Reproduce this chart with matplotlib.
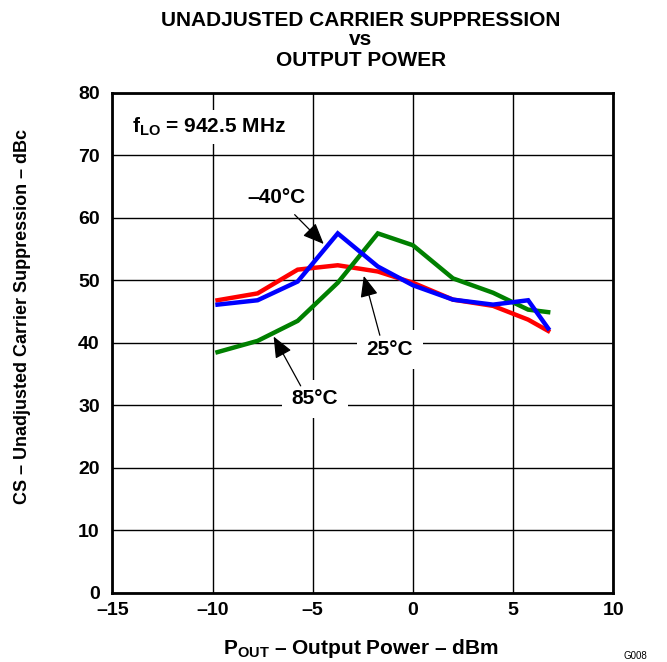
import matplotlib
matplotlib.use("Agg")
import matplotlib.pyplot as plt

plt.rcParams['font.family'] = ['Liberation Sans', 'DejaVu Sans']
plt.rcParams['mathtext.fontset'] = 'custom'
plt.rcParams['mathtext.bf'] = 'Liberation Sans:bold'
plt.rcParams['mathtext.rm'] = 'Liberation Sans'

x_pts = [-9.75, -7.75, -5.75, -3.75, -1.75, 0.0, 2.0, 4.0, 5.75, 6.75]
cs_m40 = [46.1, 46.8, 49.8, 57.5, 52.2, 49.2, 46.9, 46.1, 46.8, 42.3]
cs_25 = [46.8, 47.9, 51.7, 52.4, 51.4, 49.6, 46.9, 45.9, 43.7, 41.9]
cs_85 = [38.5, 40.3, 43.5, 49.6, 57.5, 55.6, 50.3, 48.0, 45.3, 44.9]

xticks = [-15, -10, -5, 0, 5, 10]
yticks = [0, 10, 20, 30, 40, 50, 60, 70, 80]

W, H = 667, 662
fig = plt.figure(figsize=(W / 100, H / 100), dpi=100)
ax = fig.add_axes([112.3 / W, 1 - 592.7 / H, 501.0 / W, 499.9 / H])

ax.plot(x_pts, cs_25, color='#ff0000', lw=3.2, solid_joinstyle='miter', zorder=3)
ax.plot(x_pts, cs_85, color='#008000', lw=3.2, solid_joinstyle='miter', zorder=3)
ax.plot(x_pts, cs_m40, color='#0000ff', lw=3.2, solid_joinstyle='miter', zorder=4)

ax.set_xlim(-15, 10)
ax.set_ylim(0, 80)
ax.set_xticks(xticks)
ax.set_yticks(yticks)
ax.set_xticklabels([f"{t}".replace('-', '\u2013') for t in xticks], fontsize=14, fontweight='bold')
ax.set_yticklabels([str(t) for t in yticks], fontsize=14, fontweight='bold')
ax.tick_params(axis='x', length=0, pad=7)
ax.tick_params(axis='y', length=0, pad=9)
ax.grid(True, color='black', lw=1.0, zorder=1)
for s in ax.spines.values():
    s.set_linewidth(2.0)

# axis labels
fig.text(361 / W, 1 - 648 / H, r'$\mathbf{P_{OUT}}$ \u2013 Output Power \u2013 dBm'.replace('\\u2013', '\u2013'),
         fontsize=15, fontweight='bold', ha='center', va='center')
fig.text(23 / W, 1 - 316 / H, 'CS \u2013 Unadjusted Carrier Suppression \u2013 dBc', fontsize=13,
         fontweight='bold', rotation=90, ha='center', va='center')

# title
fig.text(361 / W, 1 - 25.5 / H, 'UNADJUSTED CARRIER SUPPRESSION', ha='center', va='baseline',
         fontsize=15, fontweight='bold')
fig.text(361 / W, 1 - 45 / H, 'vs', ha='center', va='baseline', fontsize=15, fontweight='bold')
fig.text(361 / W, 1 - 65.5 / H, 'OUTPUT POWER', ha='center', va='baseline', fontsize=15,
         fontweight='bold')

bb = dict(facecolor='white', edgecolor='none', pad=4)
ax.text(-14.0, 74.5, r'$\mathbf{f_{LO}}$ = 942.5 MHz', fontsize=15, fontweight='bold',
        ha='left', va='center', bbox=bb, zorder=5)

arrowp = dict(arrowstyle='-|>,head_length=1.3,head_width=0.55', color='black', lw=0.9,
              shrinkA=0, shrinkB=0)
ax.annotate('', xy=(-4.45, 55.8), xytext=(-5.9, 60.5), arrowprops=arrowp, zorder=6)
ax.annotate('', xy=(-2.45, 50.7), xytext=(-1.65, 41.2), arrowprops=arrowp, zorder=6)
ax.annotate('', xy=(-6.95, 41.0), xytext=(-5.6, 33.1), arrowprops=arrowp, zorder=6)

ax.text(-6.8, 63.3, '\u201340\u00b0C', fontsize=15, fontweight='bold', ha='center', va='center',
        bbox=bb, zorder=5)
ax.text(-1.15, 38.9, '25\u00b0C', fontsize=15, fontweight='bold', ha='center', va='center',
        bbox=dict(facecolor='white', edgecolor='none', pad=7), zorder=5)
ax.text(-4.9, 31.0, '85\u00b0C', fontsize=15, fontweight='bold', ha='center', va='center',
        bbox=dict(facecolor='white', edgecolor='none', pad=7), zorder=5)

fig.text(623 / W, 0.002, 'G008', fontsize=7, ha='left', va='bottom')

fig.savefig('out.png', dpi=100)
